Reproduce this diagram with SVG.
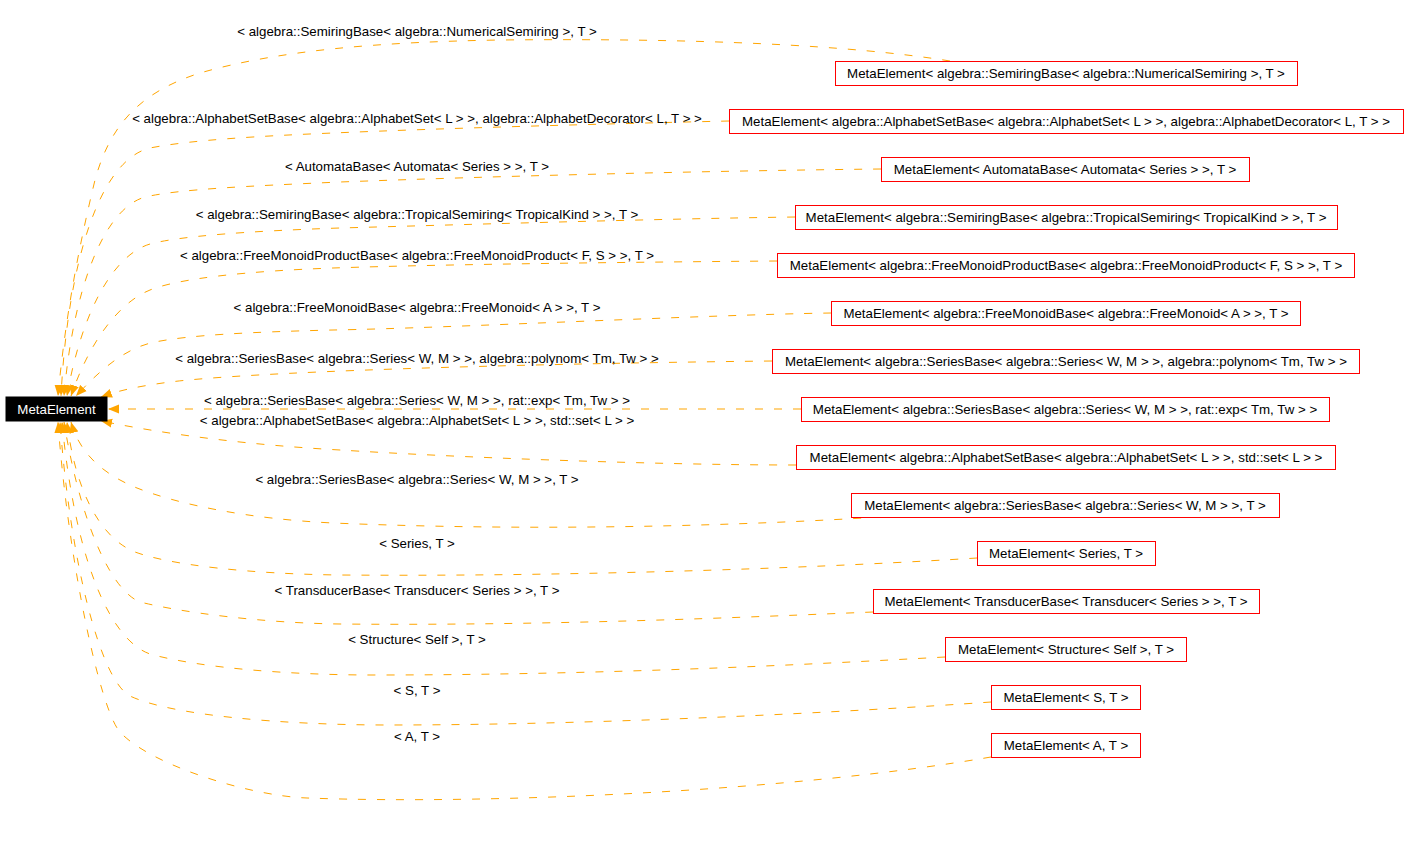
<svg xmlns="http://www.w3.org/2000/svg" width="1408" height="856" viewBox="0 0 1408 856">
<defs>
<style>
text{font-family:"Liberation Sans",Arial,sans-serif;font-size:13.3px;fill:#000}
.node rect{fill:#fff;stroke:#ff0000;stroke-width:1}
.node text{text-anchor:middle}
#root rect{fill:#000;stroke:#000}
#root text{fill:#fff;text-anchor:middle}
.edges path{fill:none;stroke:#ffa500;stroke-width:1;stroke-dasharray:8 11;marker-end:url(#ah)}
.lbl text{text-anchor:middle}
</style>
<marker id="ah" markerUnits="userSpaceOnUse" markerWidth="12" markerHeight="10" viewBox="0 0 12 10" refX="11" refY="5" orient="auto">
<path d="M0,0.5 L11,5 L0,9.5 z" fill="#ffa500" stroke="none"/>
</marker>
</defs>
<rect width="1408" height="856" fill="#fff"/>
<g class="edges" id="connectors">
<path d="M950,61 C850,45 700,38 500,40 C380,42 280,50 200,73 C140,92 110,125 95,180 C78,250 65,320 58,396"/>
<path d="M729,121 C600,124 450,128 333,133 C260,136 190,140 150,148 C100,160 68,260 61,396"/>
<path d="M881,169 C700,171 500,176 340,182 C250,186 180,189 145,197 C100,210 72,300 64,396"/>
<path d="M795,217 C650,219 450,225 340,228 C250,231 180,236 150,244 C110,256 80,320 67,396"/>
<path d="M777,261 C650,262 450,264 333,268 C250,271 180,278 150,290 C120,302 90,340 71,396"/>
<path d="M831,313 C700,315 450,328 333,330 C250,332 190,335 155,342 C125,348 100,370 76,396"/>
<path d="M772,361 C500,364 250,372 170,382 C140,386 120,390 101,397"/>
<path d="M801,409 L108,409"/>
<path d="M796,465 C650,465 450,457 340,450 C250,445 170,435 101,421"/>
<path d="M880,517 C750,525 550,532 333,523 C250,519 180,505 137,488 C105,475 80,455 71,422"/>
<path d="M977,558 C850,566 600,577 340,575 C250,574 170,565 135,552 C100,538 75,490 67,422"/>
<path d="M873,612 C750,617 550,626 340,624 C260,623 180,612 140,602 C110,590 80,520 64,422"/>
<path d="M945,657 C800,665 600,675 373,675 C290,675 200,668 150,654 C110,640 75,560 62,422"/>
<path d="M991,702 C850,712 600,725 389,725 C280,725 170,715 130,696 C100,680 70,560 60,422"/>
<path d="M991,757 C800,790 500,805 307,798 C250,796 150,765 120,732 C100,710 68,560 58,422"/>
</g>
<g class="lbl" id="labels">
<text x="417" y="36">&lt; algebra::SemiringBase&lt; algebra::NumericalSemiring &gt;, T &gt;</text>
<text x="417" y="123">&lt; algebra::AlphabetSetBase&lt; algebra::AlphabetSet&lt; L &gt; &gt;, algebra::AlphabetDecorator&lt; L, T &gt; &gt;</text>
<text x="417" y="171">&lt; AutomataBase&lt; Automata&lt; Series &gt; &gt;, T &gt;</text>
<text x="417" y="219">&lt; algebra::SemiringBase&lt; algebra::TropicalSemiring&lt; TropicalKind &gt; &gt;, T &gt;</text>
<text x="417" y="260">&lt; algebra::FreeMonoidProductBase&lt; algebra::FreeMonoidProduct&lt; F, S &gt; &gt;, T &gt;</text>
<text x="417" y="312">&lt; algebra::FreeMonoidBase&lt; algebra::FreeMonoid&lt; A &gt; &gt;, T &gt;</text>
<text x="417" y="363">&lt; algebra::SeriesBase&lt; algebra::Series&lt; W, M &gt; &gt;, algebra::polynom&lt; Tm, Tw &gt; &gt;</text>
<text x="417" y="405">&lt; algebra::SeriesBase&lt; algebra::Series&lt; W, M &gt; &gt;, rat::exp&lt; Tm, Tw &gt; &gt;</text>
<text x="417" y="425">&lt; algebra::AlphabetSetBase&lt; algebra::AlphabetSet&lt; L &gt; &gt;, std::set&lt; L &gt; &gt;</text>
<text x="417" y="484">&lt; algebra::SeriesBase&lt; algebra::Series&lt; W, M &gt; &gt;, T &gt;</text>
<text x="417" y="548">&lt; Series, T &gt;</text>
<text x="417" y="595">&lt; TransducerBase&lt; Transducer&lt; Series &gt; &gt;, T &gt;</text>
<text x="417" y="644">&lt; Structure&lt; Self &gt;, T &gt;</text>
<text x="417" y="695">&lt; S, T &gt;</text>
<text x="417" y="741">&lt; A, T &gt;</text>
</g>
<g id="root"><rect x="6" y="397" width="101" height="24"/><text x="56.5" y="413.5">MetaElement</text></g>
<g class="node" id="n1"><rect x="835.5" y="61.5" width="462" height="24"/><text x="1066" y="77.5">MetaElement&lt; algebra::SemiringBase&lt; algebra::NumericalSemiring &gt;, T &gt;</text></g>
<g class="node" id="n2"><rect x="729.5" y="109.5" width="674" height="24"/><text x="1066" y="125.5">MetaElement&lt; algebra::AlphabetSetBase&lt; algebra::AlphabetSet&lt; L &gt; &gt;, algebra::AlphabetDecorator&lt; L, T &gt; &gt;</text></g>
<g class="node" id="n3"><rect x="881.5" y="157.5" width="368" height="24"/><text x="1065" y="173.5">MetaElement&lt; AutomataBase&lt; Automata&lt; Series &gt; &gt;, T &gt;</text></g>
<g class="node" id="n4"><rect x="795.5" y="205.5" width="542" height="24"/><text x="1066" y="221.5">MetaElement&lt; algebra::SemiringBase&lt; algebra::TropicalSemiring&lt; TropicalKind &gt; &gt;, T &gt;</text></g>
<g class="node" id="n5"><rect x="777.5" y="253.5" width="577" height="24"/><text x="1066" y="269.5">MetaElement&lt; algebra::FreeMonoidProductBase&lt; algebra::FreeMonoidProduct&lt; F, S &gt; &gt;, T &gt;</text></g>
<g class="node" id="n6"><rect x="831.5" y="301.5" width="469" height="24"/><text x="1066" y="317.5">MetaElement&lt; algebra::FreeMonoidBase&lt; algebra::FreeMonoid&lt; A &gt; &gt;, T &gt;</text></g>
<g class="node" id="n7"><rect x="772.5" y="349.5" width="587" height="24"/><text x="1066" y="365.5">MetaElement&lt; algebra::SeriesBase&lt; algebra::Series&lt; W, M &gt; &gt;, algebra::polynom&lt; Tm, Tw &gt; &gt;</text></g>
<g class="node" id="n8"><rect x="801.5" y="397.5" width="528" height="24"/><text x="1065" y="413.5">MetaElement&lt; algebra::SeriesBase&lt; algebra::Series&lt; W, M &gt; &gt;, rat::exp&lt; Tm, Tw &gt; &gt;</text></g>
<g class="node" id="n9"><rect x="796.5" y="445.5" width="539" height="24"/><text x="1066" y="461.5">MetaElement&lt; algebra::AlphabetSetBase&lt; algebra::AlphabetSet&lt; L &gt; &gt;, std::set&lt; L &gt; &gt;</text></g>
<g class="node" id="n10"><rect x="851.5" y="493.5" width="428" height="24"/><text x="1065" y="509.5">MetaElement&lt; algebra::SeriesBase&lt; algebra::Series&lt; W, M &gt; &gt;, T &gt;</text></g>
<g class="node" id="n11"><rect x="977.5" y="541.5" width="178" height="24"/><text x="1066" y="557.5">MetaElement&lt; Series, T &gt;</text></g>
<g class="node" id="n12"><rect x="873.5" y="589.5" width="386" height="24"/><text x="1066" y="605.5">MetaElement&lt; TransducerBase&lt; Transducer&lt; Series &gt; &gt;, T &gt;</text></g>
<g class="node" id="n13"><rect x="945.5" y="637.5" width="241" height="24"/><text x="1066" y="653.5">MetaElement&lt; Structure&lt; Self &gt;, T &gt;</text></g>
<g class="node" id="n14"><rect x="991.5" y="685.5" width="149" height="24"/><text x="1066" y="701.5">MetaElement&lt; S, T &gt;</text></g>
<g class="node" id="n15"><rect x="991.5" y="733.5" width="149" height="24"/><text x="1066" y="749.5">MetaElement&lt; A, T &gt;</text></g>
</svg>
